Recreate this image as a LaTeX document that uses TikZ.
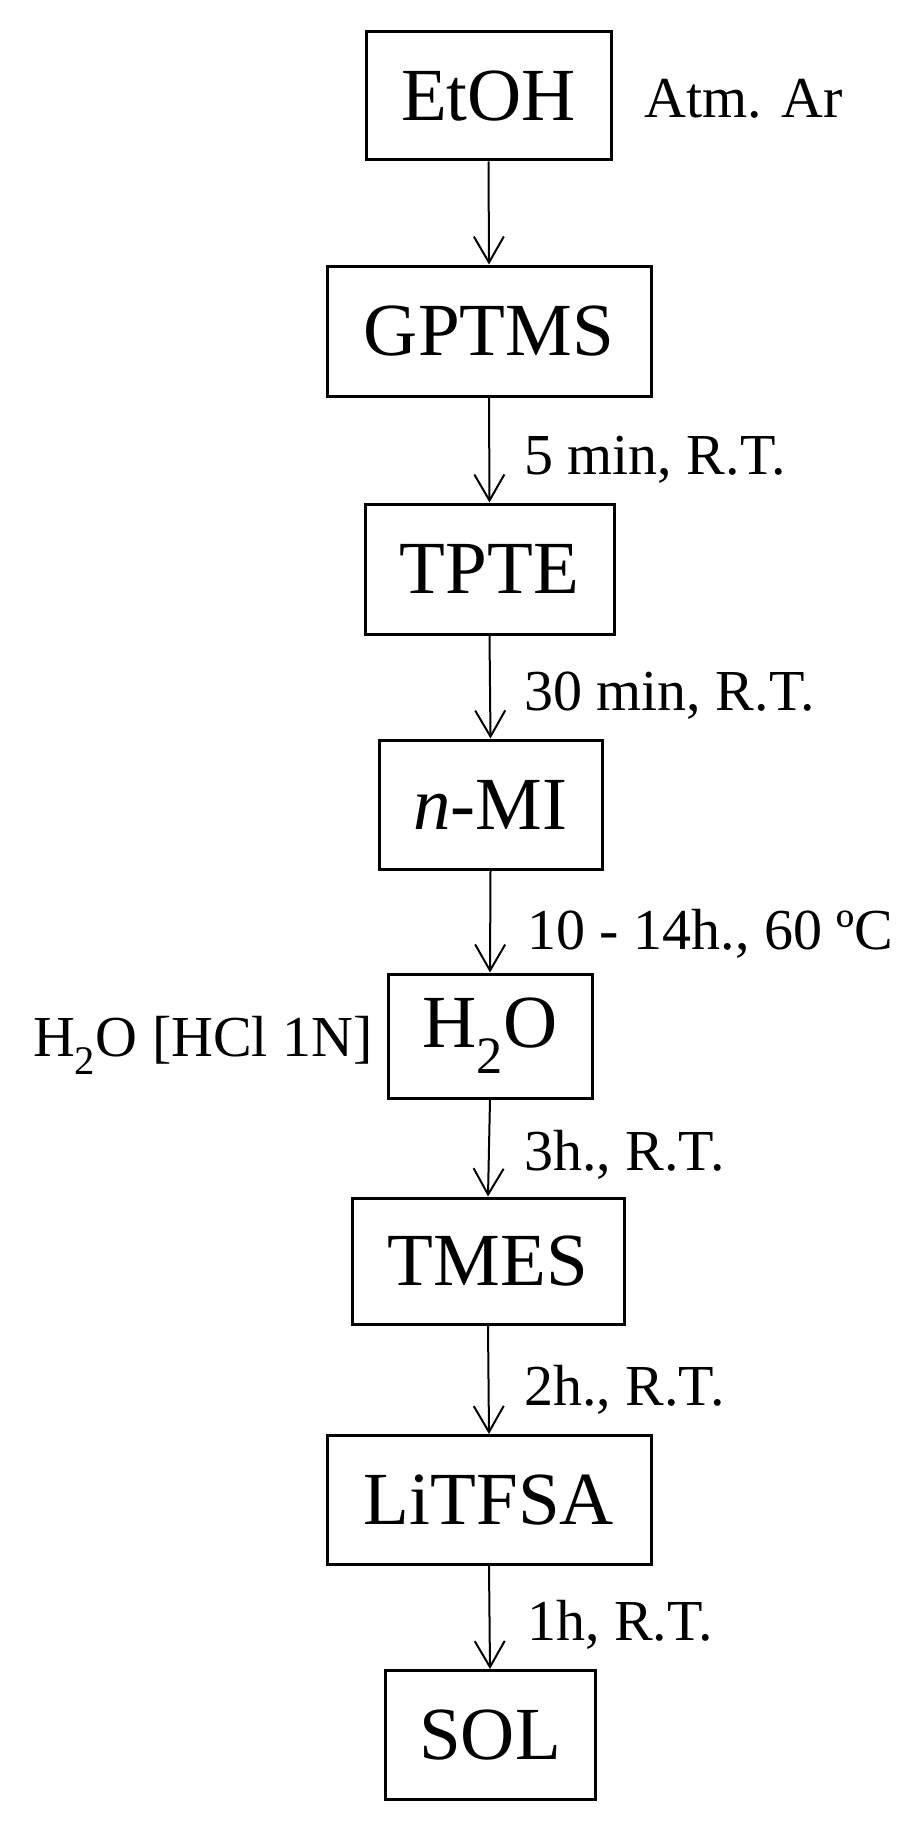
\documentclass[tikz,border=0pt]{standalone}
\usepackage{fontspec}
\setmainfont{Liberation Serif}
\usetikzlibrary{arrows.meta}
\begin{document}
\begin{tikzpicture}[x=1pt,y=-1pt,
  stepbox/.style={draw,line width=3pt,inner sep=0pt,font=\fontsize{75}{80}\selectfont},
  lbl/.style={inner sep=0pt,anchor=base west,font=\fontsize{58}{62}\selectfont},
  flow/.style={line width=2pt,-{Straight Barb[length=26pt,width=30pt,line width=2pt]}}]
\useasboundingbox (0,0) rectangle (918,1827);
\node[stepbox,minimum width=245pt,minimum height=128pt] (etoh) at (488.5,96) {EtOH};
\node[stepbox,minimum width=324pt,minimum height=130pt] (gptms) at (489,331) {GPTMS};
\node[stepbox,minimum width=249pt,minimum height=130pt] (tpte) at (489.5,569) {TPTE};
\node[stepbox,minimum width=223pt,minimum height=129pt] (nmi) at (490.5,804.5) {\textit{n}-MI};
\node[stepbox,minimum width=204pt,minimum height=124pt] (water) at (490,1036) {H\textsubscript{2}O};
\node[stepbox,minimum width=272pt,minimum height=126pt] (tmes) at (488,1261) {TMES};
\node[stepbox,minimum width=324pt,minimum height=129pt] (litfsa) at (489,1500) {LiTFSA};
\node[stepbox,minimum width=210pt,minimum height=129pt] (sol) at (490,1735) {SOL};
\draw[flow] (etoh.south) -- (gptms.north);
\draw[flow] (gptms.south) -- (tpte.north);
\draw[flow] (tpte.south) -- (nmi.north);
\draw[flow] (nmi.south) -- (water.north);
\draw[flow] (water.south) -- (tmes.north);
\draw[flow] (tmes.south) -- (litfsa.north);
\draw[flow] (litfsa.south) -- (sol.north);
\node[lbl] (atm) at (644,118) {Atm. Ar};
\node[lbl] (l1) at (524,474) {5 min, R.T.};
\node[lbl] (l2) at (524,710) {30 min, R.T.};
\node[lbl] (l3) at (527,949) {10 - 14h., 60 ºC};
\node[lbl,anchor=base east] (hcl) at (373,1056) {H\textsubscript{2}O [HCl 1N]};
\node[lbl] (l4) at (524,1170) {3h., R.T.};
\node[lbl] (l5) at (524,1405) {2h., R.T.};
\node[lbl] (l6) at (527,1640) {1h, R.T.};
\end{tikzpicture}
\end{document}
